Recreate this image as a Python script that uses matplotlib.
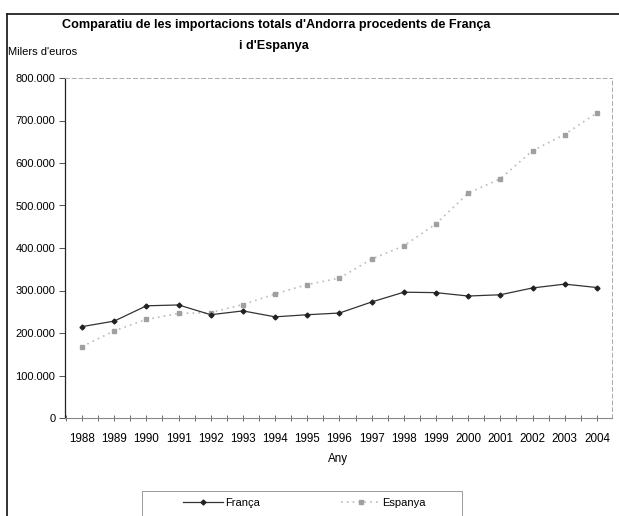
import matplotlib
matplotlib.use("Agg")
import matplotlib.pyplot as plt
from matplotlib.lines import Line2D
from matplotlib.patches import Rectangle
from matplotlib.ticker import FuncFormatter, FixedLocator
import numpy as np

plt.rcParams['font.family'] = ['Liberation Sans', 'DejaVu Sans']

years = ["1988", "1989", "1990", "1991", "1992", "1993", "1994", "1995", "1996",
         "1997", "1998", "1999", "2000", "2001", "2002", "2003", "2004"]
franca = [215000, 228000, 264000, 266000, 243000, 252000, 238000, 243000, 247000,
          273000, 296000, 295000, 287000, 290000, 306000, 315000, 307000]
espanya = [168000, 205000, 232000, 246000, 248000, 267000, 292000, 314000, 329000,
           374000, 405000, 457000, 529000, 563000, 629000, 667000, 718000]
yticks = [0, 100000, 200000, 300000, 400000, 500000, 600000, 700000, 800000]

W, H = 619, 516
fig = plt.figure(figsize=(W / 100, H / 100), dpi=100)
ax = fig.add_axes([65 / W, 1 - 418 / H, (612 - 65) / W, (418 - 78) / H])

x = np.arange(len(years))
ax.plot(x, espanya, linestyle=(0, (1, 2.5)), color='#bbbbbb', linewidth=1.2,
        marker='s', markersize=2.5, markerfacecolor='#a0a0a0', markeredgecolor='#a0a0a0',
        label='Espanya', zorder=2)
ax.plot(x, franca, linestyle='-', color='#333333', linewidth=0.9,
        marker='D', markersize=2.5, markerfacecolor='#222222', markeredgecolor='#222222',
        label='França', zorder=3)

ax.set_xlim(-0.53, len(years) - 0.53)
ax.set_ylim(0, 800000)
ax.set_xticks(x)
ax.set_xticklabels(years, fontsize=8.4)
ax.xaxis.set_minor_locator(FixedLocator(np.arange(-0.5, len(years), 1.0)))
ax.tick_params(axis='x', which='both', direction='inout', length=5, width=0.6,
               color='#555555', pad=8)
ax.set_yticks(yticks)
ax.yaxis.set_major_formatter(FuncFormatter(lambda v, p: f"{int(v):,}".replace(",", ".")))
ax.tick_params(axis='y', direction='out', length=4, width=0.6, color='#333333',
               labelsize=8, pad=3)

ax.spines['left'].set_color('#222222')
ax.spines['left'].set_linewidth(0.9)
ax.spines['bottom'].set_color('#888888')
ax.spines['bottom'].set_linewidth(0.8)
for s in ('top', 'right'):
    ax.spines[s].set_linestyle((0, (4, 3)))
    ax.spines[s].set_color('#aaaaaa')
    ax.spines[s].set_linewidth(0.7)

ax.set_xlabel('Any', fontsize=8.4, labelpad=6)

fig.text(276 / W, 1 - 25 / H, "Comparatiu de les importacions totals d'Andorra procedents de França",
         ha='center', va='center', fontsize=9.1, fontweight='bold')
fig.text(274 / W, 1 - 46 / H, "i d'Espanya", ha='center', va='center',
         fontsize=9.1, fontweight='bold')
fig.text(8 / W, 1 - 52 / H, "Milers d'euros", ha='left', va='center', fontsize=8)

# figure frame (top and left)
fig.add_artist(Line2D([7 / W, 7 / W], [0, 1 - 14 / H], transform=fig.transFigure,
                      color='#222222', linewidth=1.3))
fig.add_artist(Line2D([7 / W, 1], [1 - 14 / H, 1 - 14 / H], transform=fig.transFigure,
                      color='#222222', linewidth=1.3))

# legend box
fig.add_artist(Rectangle((142 / W, -0.02), (462 - 142) / W, 0.02 + (516 - 491) / H,
                         transform=fig.transFigure, fill=False, edgecolor='#999999',
                         linewidth=0.7))
handles, labels = ax.get_legend_handles_labels()
leg = fig.legend(handles[::-1], labels[::-1], loc='center left',
                 bbox_to_anchor=(183 / W, 1 - 503 / H), ncol=2, fontsize=8,
                 frameon=False, columnspacing=7.3, handlelength=3.6,
                 handletextpad=0.15, borderpad=0, borderaxespad=0)

fig.savefig('out.png', dpi=100)
